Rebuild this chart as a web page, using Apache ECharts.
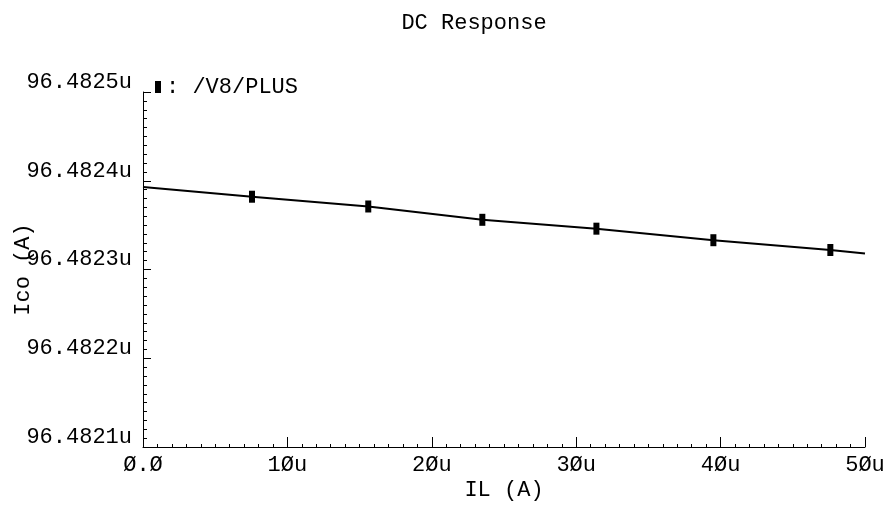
<!DOCTYPE html>
<html>
<head>
<meta charset="utf-8">
<script src="https://cdn.jsdelivr.net/npm/echarts@6/dist/echarts.min.js"></script>
<style>html,body{margin:0;padding:0;background:#fff;}#c{width:895px;height:515px;}</style>
</head>
<body>
<div id="c"></div>
<script>
// Data (IL in µA, Ico in µA)
const seriesName = '/V8/PLUS';
const ilValues  = [0, 7.55, 15.6, 23.5, 31.4, 39.5, 47.6, 50];
const icoValues = [96.4823933, 96.4823820, 96.4823708, 96.4823558, 96.4823464, 96.4823332, 96.4823220, 96.4823175];
const markerShown = [false, true, true, true, true, true, true, false];
const xTickLabels = ['Ø.Ø', '1Øu', '2Øu', '3Øu', '4Øu', '5Øu'];
const yTickLabels = ['96.4821u', '96.4822u', '96.4823u', '96.4824u', '96.4825u'];

// convert µA to pA (integers) so the axis ticks are exact
const toPA = v => Math.round(v * 1e6);
const yMin = 96482100, yMax = 96482500, yStep = 100;

const data = ilValues.map((x, i) => ({
  value: [x, toPA(icoValues[i])],
  symbol: markerShown[i] ? 'rect' : 'none'
}));

const font = 'Liberation Mono';
const fs = 22;
const chart = echarts.init(document.getElementById('c'));
chart.setOption({
  backgroundColor: '#fff',
  animation: false,
  title: {
    text: 'DC Response', left: 469, top: 7, textAlign: 'center',
    textStyle: { fontFamily: font, fontSize: fs, fontWeight: 'normal', color: '#000' }
  },
  legend: {
    left: 150, top: 71, icon: 'rect', itemWidth: 6, itemHeight: 12,
    formatter: n => ': ' + n,
    textStyle: { fontFamily: font, fontSize: fs, color: '#000' },
    data: [seriesName]
  },
  grid: { left: 143, right: 30, top: 92, bottom: 68, containLabel: false, outerBoundsMode: 'none' },
  xAxis: {
    type: 'value', min: 0, max: 50, interval: 10,
    name: 'IL (A)', nameLocation: 'middle', nameGap: 32, nameMoveOverlap: false,
    nameTextStyle: { fontFamily: font, fontSize: fs, color: '#000' },
    axisLine: { show: true, lineStyle: { color: '#000', width: 1 } },
    axisTick: { show: true, inside: true, length: 10, lineStyle: { color: '#000' } },
    minorTick: { show: true, splitNumber: 10, length: 3, lineStyle: { color: '#000' } },
    splitLine: { show: false },
    axisLabel: {
      margin: 7, fontFamily: font, fontSize: fs, color: '#000',
      formatter: v => xTickLabels[Math.round(v / 10)]
    }
  },
  yAxis: {
    type: 'value', min: yMin, max: yMax, interval: yStep,
    name: 'Ico (A)', nameLocation: 'middle', nameGap: 109, nameRotate: 90, nameMoveOverlap: false,
    nameTextStyle: { fontFamily: font, fontSize: fs, color: '#000' },
    axisLine: { show: true, lineStyle: { color: '#000', width: 1 } },
    axisTick: { show: true, inside: true, length: 8, lineStyle: { color: '#000' } },
    minorTick: { show: true, splitNumber: 10, length: 4, lineStyle: { color: '#000' } },
    splitLine: { show: false },
    axisLabel: {
      margin: 11, fontFamily: font, fontSize: fs, color: '#000',
      verticalAlign: 'bottom', lineHeight: 20,
      formatter: v => yTickLabels[Math.round((v - yMin) / yStep)]
    }
  },
  series: [{
    name: seriesName, type: 'line', data: data,
    symbolSize: [6, 12],
    itemStyle: { color: '#000' },
    lineStyle: { color: '#000', width: 2 },
    showAllSymbol: true
  }]
});
</script>
</body>
</html>
